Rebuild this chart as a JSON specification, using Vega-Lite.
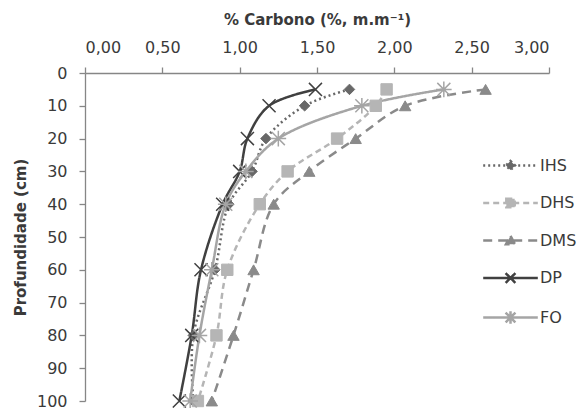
{
  "$schema": "https://vega.github.io/schema/vega-lite/v6.json",
  "width": 464,
  "height": 328,
  "autosize": "none",
  "padding": {"left": 85, "top": 73, "right": 34, "bottom": 7},
  "background": "white",
  "config": {
    "view": {"stroke": null},
    "font": "DejaVu Sans",
    "axis": {
      "grid": false,
      "domainColor": "#868686",
      "tickColor": "#868686",
      "domainWidth": 1.3,
      "tickWidth": 1.3,
      "tickSize": 6,
      "labelColor": "#3a3a3a",
      "titleColor": "#3a3a3a",
      "labelFont": "DejaVu Sans",
      "titleFont": "DejaVu Sans",
      "labelFontSize": 16,
      "titleFontSize": 15,
      "titleFontWeight": "bold"
    },
    "legend": {"labelFont": "DejaVu Sans", "labelFontSize": 16, "labelColor": "#3a3a3a"}
  },
  "data": {
    "values": [
      {"serie": "IHS", "prof": 5, "carbono": 1.71},
      {"serie": "IHS", "prof": 10, "carbono": 1.42},
      {"serie": "IHS", "prof": 20, "carbono": 1.17},
      {"serie": "IHS", "prof": 30, "carbono": 1.08},
      {"serie": "IHS", "prof": 40, "carbono": 0.93},
      {"serie": "IHS", "prof": 60, "carbono": 0.84},
      {"serie": "IHS", "prof": 80, "carbono": 0.70},
      {"serie": "IHS", "prof": 100, "carbono": 0.70},
      {"serie": "DHS", "prof": 5, "carbono": 1.95},
      {"serie": "DHS", "prof": 10, "carbono": 1.88},
      {"serie": "DHS", "prof": 20, "carbono": 1.63},
      {"serie": "DHS", "prof": 30, "carbono": 1.31},
      {"serie": "DHS", "prof": 40, "carbono": 1.13},
      {"serie": "DHS", "prof": 60, "carbono": 0.92},
      {"serie": "DHS", "prof": 80, "carbono": 0.85},
      {"serie": "DHS", "prof": 100, "carbono": 0.73},
      {"serie": "DMS", "prof": 5, "carbono": 2.59},
      {"serie": "DMS", "prof": 10, "carbono": 2.07},
      {"serie": "DMS", "prof": 20, "carbono": 1.75},
      {"serie": "DMS", "prof": 30, "carbono": 1.45},
      {"serie": "DMS", "prof": 40, "carbono": 1.22},
      {"serie": "DMS", "prof": 60, "carbono": 1.09},
      {"serie": "DMS", "prof": 80, "carbono": 0.96},
      {"serie": "DMS", "prof": 100, "carbono": 0.82},
      {"serie": "DP", "prof": 5, "carbono": 1.49},
      {"serie": "DP", "prof": 10, "carbono": 1.19},
      {"serie": "DP", "prof": 20, "carbono": 1.05},
      {"serie": "DP", "prof": 30, "carbono": 1.00},
      {"serie": "DP", "prof": 40, "carbono": 0.89},
      {"serie": "DP", "prof": 60, "carbono": 0.75},
      {"serie": "DP", "prof": 80, "carbono": 0.69},
      {"serie": "DP", "prof": 100, "carbono": 0.61},
      {"serie": "FO", "prof": 5, "carbono": 2.32},
      {"serie": "FO", "prof": 10, "carbono": 1.79},
      {"serie": "FO", "prof": 20, "carbono": 1.25},
      {"serie": "FO", "prof": 30, "carbono": 1.04},
      {"serie": "FO", "prof": 40, "carbono": 0.91},
      {"serie": "FO", "prof": 60, "carbono": 0.82},
      {"serie": "FO", "prof": 80, "carbono": 0.74},
      {"serie": "FO", "prof": 100, "carbono": 0.68}
    ]
  },
  "encoding": {
    "x": {
      "field": "carbono",
      "type": "quantitative",
      "scale": {"domain": [0, 3], "nice": false},
      "axis": {
        "orient": "top",
        "values": [0, 0.5, 1, 1.5, 2, 2.5, 3],
        "labelExpr": "replace(format(datum.value, '.2f'), '.', ',')",
        "title": "% Carbono (%, m.m⁻¹)",
        "labelPadding": 12,
        "titlePadding": 12
      }
    },
    "y": {
      "field": "prof",
      "type": "quantitative",
      "scale": {"domain": [0, 100], "reverse": true, "nice": false},
      "axis": {
        "values": [0, 10, 20, 30, 40, 50, 60, 70, 80, 90, 100],
        "title": "Profundidade (cm)",
        "labelPadding": 12,
        "titlePadding": 8
      }
    }
  },
  "layer": [
    {
      "mark": {"type": "line", "interpolate": "catmull-rom", "strokeWidth": 2.5},
      "encoding": {
        "order": {"field": "prof", "type": "quantitative"},
        "color": {
          "field": "serie",
          "type": "nominal",
          "scale": {
            "domain": ["IHS", "DHS", "DMS", "DP", "FO"],
            "range": ["#686868", "#b5b5b5", "#8a8a8a", "#404040", "#a5a5a5"]
          },
          "legend": {
            "orient": "none",
            "legendX": 417,
            "legendY": 84,
            "title": null,
            "rowPadding": 17.5,
            "labelOffset": 21,
            "symbolSize": 196,
            "symbolStrokeWidth": 2.5,
            "encode": {
              "symbols": {
                "update": {
                  "shape": {"signal": "datum.value === 'IHS' ? 'M-3.9,0L3.9,0M0,-0.65L0.65,0L0,0.65L-0.65,0Z' : datum.value === 'DHS' ? 'M-3.9,0L3.9,0M-0.6,-0.6L0.6,-0.6L0.6,0.6L-0.6,0.6Z' : datum.value === 'DMS' ? 'M-3.9,0L3.9,0M0,-0.65L0.65,0.55L-0.65,0.55Z' : datum.value === 'DP' ? 'M-3.9,0L3.9,0M-0.7,-0.7L0.7,0.7M0.7,-0.7L-0.7,0.7' : 'M-3.9,0L3.9,0M-0.7,-0.7L0.7,0.7M0.7,-0.7L-0.7,0.7M0,-0.9L0,0.9'"},
                  "fill": {"signal": "scale('color', datum.value)"},
                  "fillOpacity": {"value": 1}
                }
              }
            }
          }
        },
        "strokeDash": {
          "field": "serie",
          "type": "nominal",
          "scale": {
            "domain": ["IHS", "DHS", "DMS", "DP", "FO"],
            "range": [[2, 3], [6, 4], [9, 6], [1, 0], [1, 0]]
          }
        }
      }
    },
    {
      "transform": [{"filter": "datum.serie === 'IHS'"}],
      "mark": {"type": "point", "shape": "diamond", "filled": true, "opacity": 1, "fill": "#686868", "stroke": "#686868", "strokeWidth": 1, "size": 110}
    },
    {
      "transform": [{"filter": "datum.serie === 'DHS'"}],
      "mark": {"type": "point", "shape": "square", "filled": true, "opacity": 1, "fill": "#b5b5b5", "stroke": "#b5b5b5", "strokeWidth": 1, "size": 130}
    },
    {
      "transform": [{"filter": "datum.serie === 'DMS'"}],
      "mark": {"type": "point", "shape": "triangle-up", "filled": true, "opacity": 1, "fill": "#8a8a8a", "stroke": "#8a8a8a", "strokeWidth": 1, "size": 130}
    },
    {
      "transform": [{"filter": "datum.serie === 'DP'"}],
      "mark": {"type": "point", "shape": "M-1,-1L1,1M1,-1L-1,1", "filled": false, "opacity": 1, "stroke": "#404040", "strokeWidth": 1.5, "size": 170}
    },
    {
      "transform": [{"filter": "datum.serie === 'FO'"}],
      "mark": {"type": "point", "shape": "M-1,-1L1,1M1,-1L-1,1M0,-1.2L0,1.2M-1.2,0L1.2,0", "filled": false, "opacity": 1, "stroke": "#a5a5a5", "strokeWidth": 1.5, "size": 170}
    }
  ]
}
